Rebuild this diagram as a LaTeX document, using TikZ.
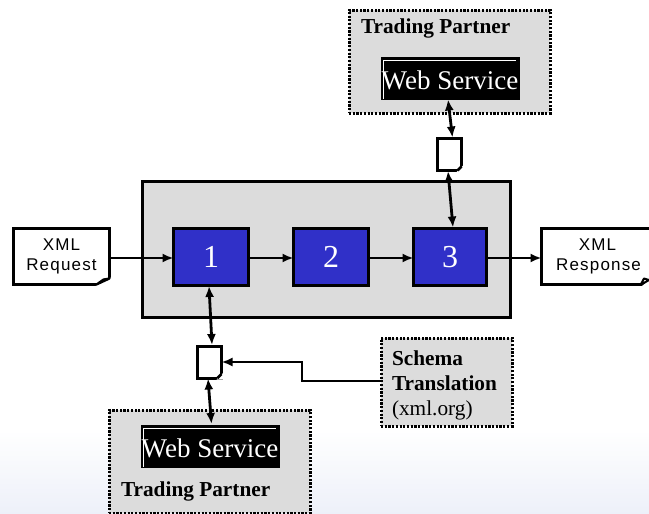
\documentclass[tikz,border=0pt]{standalone}
\usepackage{fontspec}
\setmainfont{Liberation Serif}
\newfontfamily\xmlfont[LetterSpace=7]{Liberation Sans}
\usetikzlibrary{arrows.meta,calc}
\definecolor{panel}{HTML}{DCDCDC}
\definecolor{stepblue}{HTML}{3030C8}
\definecolor{bgblue}{HTML}{EDF0F9}
\tikzset{
  x=1pt,y=-1pt,
  every node/.style={inner sep=0pt,outer sep=0pt},
  mainbox/.style={draw=black,line width=3pt,fill=panel},
  partner/.style={draw=black,line width=3pt,dash pattern=on 2.2pt off 1.5pt,fill=panel},
  wsbox/.style={draw=black,line width=1pt,fill=black,text=white,font=\fontsize{27}{27}\selectfont},
  stepbox/.style={draw=black,line width=3pt,fill=stepblue,text=white,font=\fontsize{32}{32}\selectfont},
  docbox/.style={draw=black,line width=3pt,fill=white},
  xmlbox/.style={align=center,font=\xmlfont\fontsize{17}{20}\selectfont},
  titletext/.style={font=\bfseries\fontsize{21.3}{22}\selectfont,anchor=west},
  link/.style={line width=2.8pt,-{Latex[length=11pt,width=9pt]}},
  bilink/.style={line width=2.8pt,{Latex[length=11pt,width=9pt]}-{Latex[length=11pt,width=9pt]}},
}
\newcommand{\placebox}[6]{% style, name, x1, y1, x2, y2
  \node[#1,anchor=north west,minimum width=#5pt-#3pt,minimum height=#6pt-#4pt] (#2) at (#3,#4) {};}
\begin{document}
\begin{tikzpicture}
\useasboundingbox (0,0) rectangle (649,514);
\fill[white] (0,0) rectangle (649,514);
\shade[top color=white,bottom color=bgblue] (0,430) rectangle (649,514);

% panels
\placebox{partner}{tp}{349}{10}{550}{113}
\placebox{mainbox}{main}{142}{181}{510}{317}
\placebox{partner}{bp}{109}{410}{310}{513}
\placebox{partner}{schema}{381}{338}{512}{426}

% text in panels
\node[titletext] (tptitle) at (361,28) {Trading Partner};
\node[titletext] (bptitle) at (121,491) {Trading Partner};
\node[anchor=north west,align=left,font=\fontsize{21.3}{25}\selectfont] (schematext) at (392,351)
  {\textbf{Schema}\\\textbf{Translation}\\(xml.org)};

% web services
\node[wsbox,anchor=north west,minimum width=138pt,minimum height=42pt,text depth=0pt] (wstop) at (381,57) {\raisebox{-4.5pt}{Web Service}};
\node[wsbox,anchor=north west,minimum width=138pt,minimum height=42pt,text depth=0pt] (wsbot) at (141,425) {\raisebox{-4.5pt}{Web Service}};
\draw[white,line width=.7pt] (383.5,99) -- (383.5,60.5) -- (516,60.5);
\draw[white,line width=.7pt] (143.5,467) -- (143.5,428.5) -- (276,428.5);

% steps
\node[stepbox,anchor=north west,minimum width=75pt,minimum height=57pt] (s1) at (173.5,228.5) {\raisebox{-1pt}{1}};
\node[stepbox,anchor=north west,minimum width=75pt,minimum height=57pt] (s2) at (293.5,228.5) {\raisebox{-1pt}{2}};
\node[stepbox,anchor=north west,minimum width=73pt,minimum height=57pt] (s3) at (413.5,228.5) {\raisebox{-1pt}{3}};

% XML documents
\node[docbox,xmlbox,anchor=north west,minimum width=96pt,minimum height=56pt] (req) at (13.5,228.5) {XML\\Request};
\fill[white] ($(req.south east)+(-14,1.6)$) -- ($(req.south east)+(1.6,1.6)$) -- ($(req.south east)+(1.6,-7)$) -- cycle;
\draw[line width=2.2pt,line join=round,fill=black] ($(req.south east)+(-13,0)$) -- ($(req.south east)+(0,-6)$) -- ($(req.south east)+(-6,-5)$) -- cycle;
\node[docbox,xmlbox,anchor=north west,minimum width=114pt,minimum height=56pt,text width=112pt] (resp) at (541.5,228.5) {\hspace*{-2pt}XML\\Response\hspace*{14pt}};
\fill[white] (641,286.8) -- (650,286.8) -- (650,279) -- cycle;
\draw[line width=2pt,line join=round,fill=white] (640.5,285) -- (649,280) -- (644,278.5) -- cycle;

% small documents
\node[docbox,anchor=north west,minimum width=24pt,minimum height=32pt] (dtop) at (437.5,138.5) {};
\node[docbox,anchor=north west,minimum width=24pt,minimum height=32pt] (dbot) at (197.5,346) {};
\foreach \d in {dtop,dbot}{
  \fill[white] ($(\d.south east)+(-5,1.7)$) -- ($(\d.south east)+(1.7,1.7)$) -- ($(\d.south east)+(1.7,-5)$) -- cycle;
  \draw[line width=2.8pt] ($(\d.south east)+(-4,0)$) -- ($(\d.south east)+(0,-4)$);
}

% connectors
\draw[link] (req.east |- 0,258) -- (s1.west |- 0,258);
\draw[link] (s1.east |- 0,258) -- (s2.west |- 0,258);
\draw[link] (s2.east |- 0,258) -- (s3.west |- 0,258);
\draw[link] (s3.east |- 0,258) -- (resp.west |- 0,258);
\draw[bilink] ($(wstop.south)+(-2,0.5)$) -- ($(dtop.north)+(3,-1)$);
\draw[bilink] ($(dtop.south)+(-1.5,0.5)$) -- ($(s3.north)+(3,-1)$);
\draw[bilink] ($(s1.south)+(-2,0.5)$) -- ($(dbot.north)+(2.5,-1)$);
\draw[bilink] ($(dbot.south)+(-1.5,0.5)$) -- ($(wsbot.north)+(1.5,-1)$);
\draw[link] (schema.west |- 0,381) -- (302,381) -- (302,362) -- (dbot.east |- 0,362);
\end{tikzpicture}
\end{document}
